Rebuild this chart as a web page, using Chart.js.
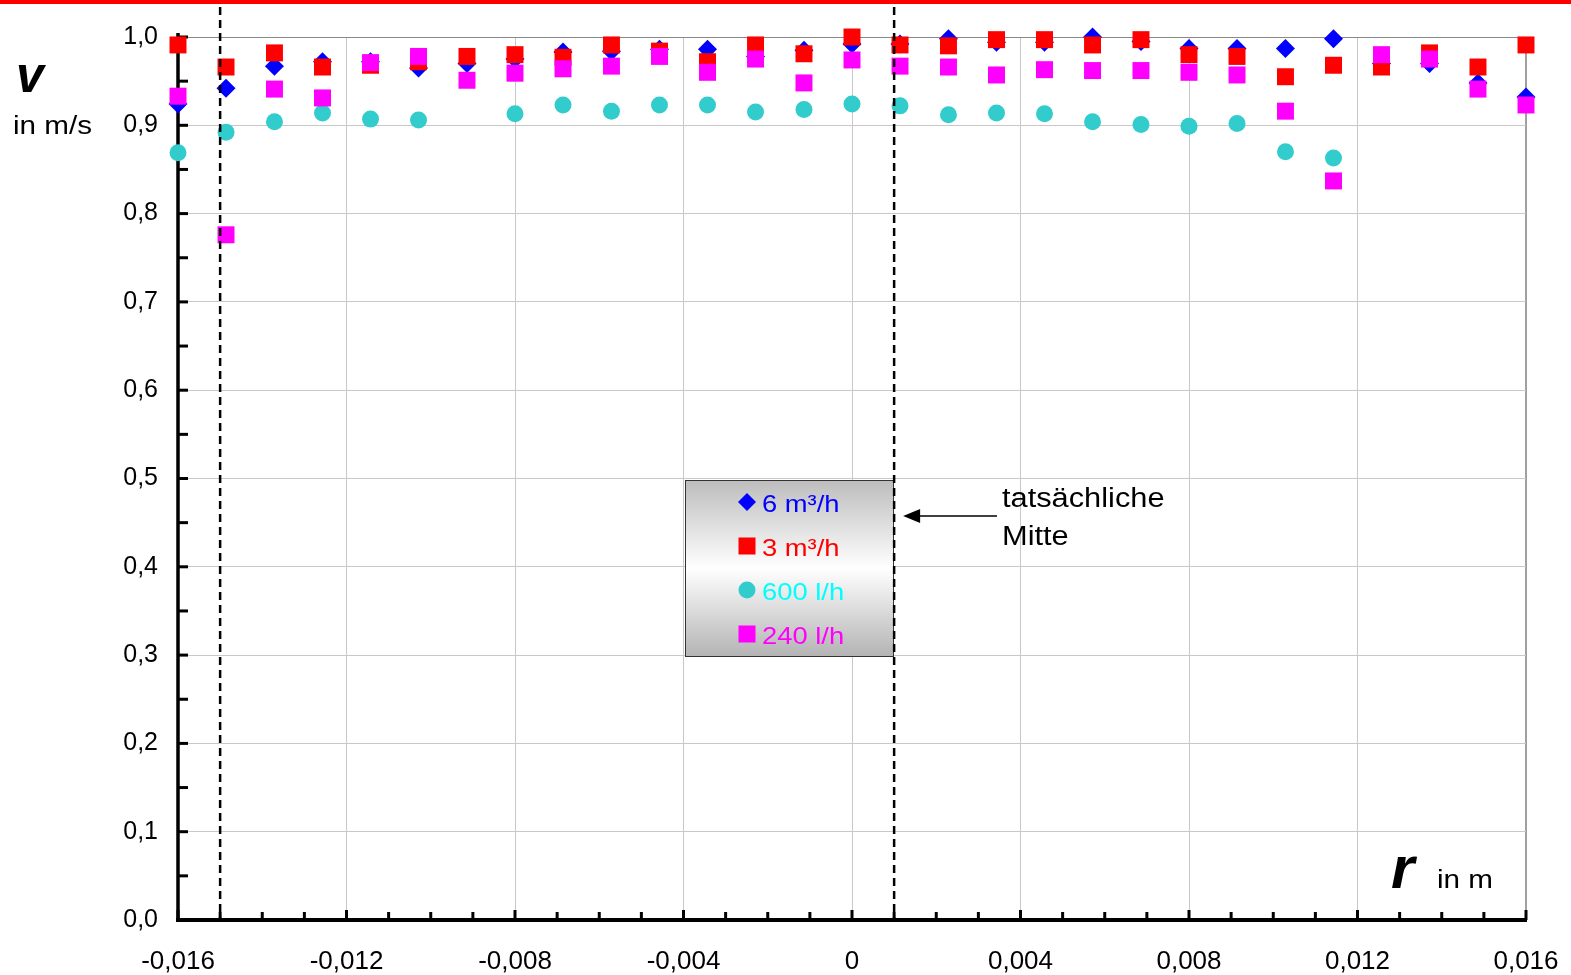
<!DOCTYPE html>
<html>
<head>
<meta charset="utf-8">
<script src="https://cdn.jsdelivr.net/npm/chart.js@4.4.1/dist/chart.umd.min.js"></script>
<style>
  html, body { margin: 0; padding: 0; background: #fff; }
  #wrap { width: 1571px; height: 975px; position: relative; }
</style>
</head>
<body>
<div id="wrap"><canvas id="chart"></canvas></div>
<script>
// radial position r in m
const radius = [
  -0.016, -0.01486, -0.01371, -0.01257, -0.01143, -0.01029, -0.00914, -0.008,
  -0.00686, -0.00571, -0.00457, -0.00343, -0.00229, -0.00114, 0, 0.00114,
  0.00229, 0.00343, 0.00457, 0.00571, 0.00686, 0.008, 0.00914, 0.01029,
  0.01143, 0.01257, 0.01371, 0.01486, 0.016
];

// velocity v in m/s per flow rate
const flow6m3 = [
  0.924, 0.942, 0.967, 0.972, 0.972, 0.965, 0.970, 0.975, 0.983, 0.984,
  0.986, 0.986, 0.978, 0.985, 0.992, 0.992, 0.998, 0.994, 0.994, 1.000,
  0.995, 0.987, 0.987, 0.987, 0.998, 0.970, 0.970, 0.948, 0.932
];
const flow3m3 = [
  0.991, 0.966, 0.982, 0.966, 0.968, 0.972, 0.978, 0.980, 0.977, 0.991,
  0.984, 0.972, 0.991, 0.981, 1.000, 0.991, 0.990, 0.997, 0.997, 0.991,
  0.997, 0.980, 0.978, 0.955, 0.968, 0.966, 0.982, 0.966, 0.991
];
const flow600l = [
  0.869, 0.892, 0.904, 0.914, 0.907, 0.906, null, 0.913, 0.923, 0.916,
  0.923, 0.923, 0.915, 0.918, 0.924, 0.922, 0.912, 0.914, 0.913, 0.904,
  0.901, 0.899, 0.902, 0.870, 0.863, null, null, null, null
];
const flow240l = [
  0.933, 0.776, 0.941, 0.931, 0.971, 0.978, 0.951, 0.959, 0.964, 0.967,
  0.978, 0.960, 0.975, 0.948, 0.974, 0.967, 0.966, 0.957, 0.963, 0.962,
  0.962, 0.960, 0.957, 0.916, 0.837, 0.980, 0.975, 0.941, 0.923
];

const seriesLabels = ["6 m³/h", "3 m³/h", "600 l/h", "240 l/h"];
const seriesColors = ["#0000ff", "#ff0000", "#33cccc", "#ff00ff"];
const legendTextColors = ["#0000ff", "#ff0000", "#00ffff", "#ff00ff"];
const seriesStyles = ["rectRot", "rect", "circle", "rect"];

// dashed markers: pipe wall and actual centre
const markerLines = [-0.015, 0.001];
const annotationText = ["tatsächliche", "Mitte"];

const FONT = '"Liberation Sans", Arial, sans-serif';
const STRETCH = 1.14;
const CLEAR = "rgba(0,0,0,0)";

function toPoints(values) {
  return radius
    .map((r, i) => ({ x: r, y: values[i] }))
    .filter((p) => p.y !== null);
}

function xLabel(v) {
  const k = Math.round(v * 1000);
  if (k % 4 !== 0) return "";
  if (k === 0) return "0";
  return (k / 1000).toFixed(3).replace(".", ",");
}

function stretchText(ctx, text, x, y, font, color) {
  ctx.save();
  ctx.font = font;
  ctx.fillStyle = color;
  ctx.textAlign = "left";
  ctx.textBaseline = "alphabetic";
  ctx.translate(x, y);
  ctx.scale(STRETCH, 1);
  ctx.fillText(text, 0, 0);
  ctx.restore();
}

function drawMarker(ctx, style, x, y, color) {
  ctx.fillStyle = color;
  ctx.beginPath();
  if (style === "rectRot") {
    ctx.moveTo(x - 9, y);
    ctx.lineTo(x, y - 9);
    ctx.lineTo(x + 9, y);
    ctx.lineTo(x, y + 9);
    ctx.closePath();
  } else if (style === "rect") {
    ctx.rect(x - 8.5, y - 8.5, 17, 17);
  } else {
    ctx.arc(x, y, 8.5, 0, Math.PI * 2);
  }
  ctx.fill();
}

const frame = {
  id: "frame",
  beforeDraw(chart) {
    const ctx = chart.ctx;
    ctx.save();
    ctx.fillStyle = "#fff";
    ctx.fillRect(0, 0, chart.width, chart.height);
    ctx.fillStyle = "#ff0000";
    ctx.fillRect(0, 0, chart.width, 4);
    ctx.restore();
  },
  beforeDatasetsDraw(chart) {
    const { ctx, chartArea: a, scales } = chart;
    const x = scales.x, y = scales.y;
    ctx.save();
    ctx.strokeStyle = "#000";
    ctx.lineWidth = 3;
    x.ticks.forEach((t) => {
      const px = x.getPixelForValue(t.value);
      const major = Math.round(t.value * 1000) % 4 === 0;
      ctx.beginPath();
      ctx.moveTo(px, a.bottom);
      ctx.lineTo(px, a.bottom - (major ? 10 : 8));
      ctx.stroke();
    });
    y.ticks.forEach((t) => {
      const py = y.getPixelForValue(t.value);
      ctx.beginPath();
      ctx.moveTo(a.left, py);
      ctx.lineTo(a.left + 10, py);
      ctx.stroke();
    });
    ctx.lineWidth = 3.5;
    ctx.beginPath();
    ctx.moveTo(a.left, a.top - 4);
    ctx.lineTo(a.left, a.bottom + 2);
    ctx.stroke();
    ctx.lineWidth = 4;
    ctx.beginPath();
    ctx.moveTo(a.left - 2, a.bottom);
    ctx.lineTo(a.right + 1, a.bottom);
    ctx.stroke();
    ctx.restore();
  },
  afterDraw(chart) {
    const { ctx, chartArea: a, scales } = chart;
    const x = scales.x;
    ctx.save();

    // legend box
    const lx = 685, ly = 480, lw = 209, lh = 177;
    const g = ctx.createLinearGradient(0, ly, 0, ly + lh);
    g.addColorStop(0, "#bdbdbd");
    g.addColorStop(0.5, "#ffffff");
    g.addColorStop(1, "#b3b3b3");
    ctx.fillStyle = g;
    ctx.fillRect(lx, ly, lw, lh);
    ctx.strokeStyle = "#333";
    ctx.lineWidth = 1;
    ctx.strokeRect(lx + 0.5, ly + 0.5, lw - 1, lh - 1);
    seriesLabels.forEach((label, i) => {
      const cy = 502 + i * 44;
      drawMarker(ctx, seriesStyles[i], 747, cy, seriesColors[i]);
      stretchText(ctx, label, 762, cy + 10, "24px " + FONT, legendTextColors[i]);
    });

    // dashed vertical lines
    ctx.strokeStyle = "#000";
    ctx.lineWidth = 2.5;
    ctx.setLineDash([8, 5]);
    markerLines.forEach((v) => {
      const px = x.getPixelForValue(v);
      ctx.beginPath();
      ctx.moveTo(px, 7);
      ctx.lineTo(px, a.bottom);
      ctx.stroke();
    });
    ctx.setLineDash([]);

    // arrow to the actual centre
    const tip = x.getPixelForValue(markerLines[1]) + 9;
    ctx.lineWidth = 1.5;
    ctx.beginPath();
    ctx.moveTo(997, 516);
    ctx.lineTo(tip + 14, 516);
    ctx.stroke();
    ctx.fillStyle = "#000";
    ctx.beginPath();
    ctx.moveTo(tip, 516);
    ctx.lineTo(tip + 17, 509);
    ctx.lineTo(tip + 17, 523);
    ctx.closePath();
    ctx.fill();
    stretchText(ctx, annotationText[0], 1002, 507, "27px " + FONT, "#000");
    stretchText(ctx, annotationText[1], 1002, 545, "27px " + FONT, "#000");

    // axis titles
    ctx.fillStyle = "#000";
    ctx.font = "italic bold 50px " + FONT;
    ctx.textBaseline = "alphabetic";
    ctx.fillText("v", 16, 92);
    stretchText(ctx, "in m/s", 13, 134, "26px " + FONT, "#000");
    ctx.font = "italic bold 60px " + FONT;
    ctx.fillText("r", 1391, 888);
    stretchText(ctx, "in m", 1437, 888, "26px " + FONT, "#000");

    ctx.restore();
  },
};

const pointData = [flow6m3, flow3m3, flow600l, flow240l];
const pointRadius = [9.5, 12, 8.5, 12];

new Chart(document.getElementById("chart"), {
  type: "scatter",
  data: {
    datasets: pointData.map((values, i) => ({
      label: seriesLabels[i],
      data: toPoints(values),
      pointStyle: seriesStyles[i],
      pointRadius: pointRadius[i],
      pointHoverRadius: pointRadius[i],
      backgroundColor: seriesColors[i],
      borderColor: seriesColors[i],
      borderWidth: 0,
      order: 4 - i,
      clip: false,
    })),
  },
  options: {
    responsive: true,
    maintainAspectRatio: false,
    animation: false,
    layout: { padding: { top: 37, right: 45, left: 0, bottom: 0 } },
    plugins: { legend: { display: false }, tooltip: { enabled: false } },
    scales: {
      x: {
        type: "linear",
        min: -0.016,
        max: 0.016,
        afterFit: (s) => {
          s.height = 55;
          s.paddingLeft = 0;
          s.paddingRight = 0;
        },
        border: { display: false },
        grid: {
          drawTicks: false,
          color: (c) => {
            if (!c.tick) return CLEAR;
            const k = Math.round(c.tick.value * 1000);
            if (k === 16) return "#a0a0a0";
            return k % 4 === 0 ? "#c8c8c8" : CLEAR;
          },
          lineWidth: (c) => (c.tick && Math.round(c.tick.value * 1000) === 16 ? 2 : 1),
        },
        ticks: {
          stepSize: 0.001,
          maxTicksLimit: 100,
          autoSkip: false,
          maxRotation: 0,
          minRotation: 0,
          padding: 26,
          color: "#000",
          font: { family: FONT, size: 26 },
          callback: (v) => xLabel(v),
        },
      },
      y: {
        type: "linear",
        min: 0,
        max: 1,
        afterFit: (s) => { s.width = 178; },
        border: { display: false },
        grid: {
          drawTicks: false,
          color: (c) => {
            if (!c.tick) return CLEAR;
            const k = Math.round(c.tick.value * 100);
            if (k === 100) return "#888";
            return k % 10 === 0 ? "#c8c8c8" : CLEAR;
          },
        },
        ticks: {
          stepSize: 0.05,
          maxTicksLimit: 100,
          autoSkip: false,
          padding: 20,
          color: "#000",
          font: { family: FONT, size: 25 },
          callback: (v) => {
            const k = Math.round(v * 100);
            return k % 10 === 0 ? (k / 100).toFixed(1).replace(".", ",") : "";
          },
        },
      },
    },
  },
  plugins: [frame],
});
</script>
</body>
</html>
